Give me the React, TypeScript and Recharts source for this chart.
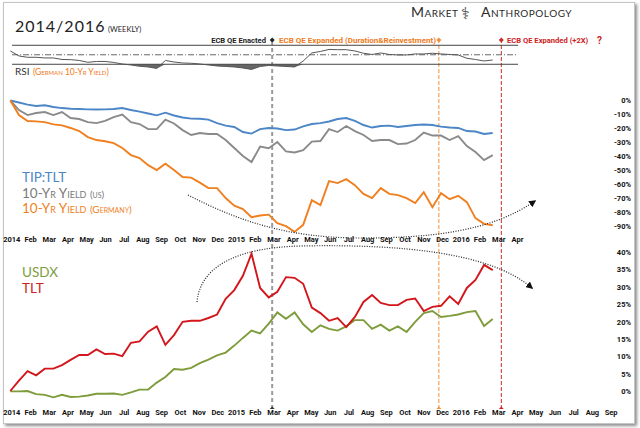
import React from "react";
import { LineChart, ComposedChart, Line, Area, XAxis, YAxis, ReferenceLine, ReferenceDot } from "recharts";

// weekly index since 1 Jan 2014 (sampled every 2nd week)
const weeks = [1, 3, 5, 7, 9, 11, 13, 15, 17, 19, 21, 23, 25, 27, 29, 31, 33, 35, 37, 39, 41, 43, 45, 47, 49, 51, 53, 55, 57, 59, 61, 63, 65, 67, 69, 71, 73, 75, 77, 79, 81, 83, 85, 87, 89, 91, 93, 95, 97, 99, 101, 103, 105, 107, 109, 111, 113];

// upper panel, % change
const tipTlt = [0, -1.4, -2.9, -3.9, -3.4, -4.6, -5.4, -5.9, -6.1, -6.3, -6.4, -6.3, -6.1, -5.4, -6.8, -7.9, -9.3, -10.6, -8.7, -10.7, -12.1, -12.9, -13, -13.6, -16.1, -17.9, -18.9, -22.5, -23.6, -20.4, -19.6, -20, -21.1, -20.7, -18.4, -16.8, -16.1, -15, -13.2, -12.5, -14.6, -17.5, -19.3, -18.2, -17.9, -18.9, -18.2, -17.5, -17.1, -17.5, -18.6, -19.3, -19.6, -21.8, -22.1, -23.9, -23.2];
const us10y = [0, -6.8, -10.4, -8.9, -8.2, -10.4, -8.2, -12.5, -13.2, -15.4, -16.1, -14.6, -11.8, -10, -15.4, -16.8, -20.4, -20.4, -13.6, -16.4, -21.1, -24.6, -23.2, -23.9, -23.9, -28.2, -33.9, -39.6, -43.9, -32.9, -34, -29.6, -36.3, -37.1, -35.4, -29.3, -28.9, -20.4, -22.5, -18.2, -21.8, -24.6, -28.9, -28.2, -28.2, -31.1, -30.7, -28.2, -22.9, -25, -25, -28.2, -25.4, -32.5, -36.8, -42.5, -39];
const de10y = [0, -10.4, -14.6, -14.9, -15.4, -17, -17.7, -19.6, -21.8, -26.1, -28.2, -29.1, -30.4, -33.9, -38.9, -41.1, -46.1, -49.6, -45.1, -49.6, -54.6, -55, -58.6, -62.5, -62.5, -69.6, -75, -77.5, -83.2, -82, -81.4, -87.5, -89.6, -93.7, -88.7, -71.1, -74.6, -57.5, -58.9, -56.1, -60.4, -66.6, -69.6, -62.5, -66.6, -67.5, -69.6, -73.2, -65.4, -76.1, -66.1, -70.4, -68, -72.5, -83.9, -88, -89];

// lower panel, % change
const usdx = [0.1, 0.1, 0.2, -0.7, -0.9, -1.6, -0.9, -1.5, -1.4, -1.1, -0.6, -0.6, -0.5, -0.9, -0.2, 0.6, 0.6, 2.6, 4.2, 6.5, 6.3, 6.8, 8.2, 9.2, 10.4, 11.2, 13.2, 15.4, 17.5, 16.7, 19.5, 22.7, 20.9, 22.7, 19.3, 17.1, 19, 18, 17.5, 18.7, 20.5, 20.5, 18, 19.2, 17.5, 18.7, 17.1, 20, 22.5, 23.1, 21.4, 21.7, 22.1, 22.8, 23.1, 18.8, 20.8];
const tlt = [0.2, 3.2, 5.9, 4.7, 6.6, 6.6, 7.6, 9.1, 10.5, 10.5, 12.1, 10.8, 10.9, 10.2, 14, 14.4, 17.2, 18.7, 13.4, 16.2, 20, 20.3, 20.3, 21.1, 22.1, 26.6, 29.1, 33.2, 39.5, 29.7, 27, 28.6, 32.8, 32.6, 30.9, 24.1, 22.5, 20.3, 21.1, 18.5, 21.4, 25.7, 27.7, 25.4, 24.8, 24.8, 26.3, 26.7, 23.1, 24.3, 24.6, 27.3, 25.1, 29.7, 32, 36.3, 34.8];

// RSI of German 10-yr yield
const rsiDe = [58, 47.5, 44.7, 44.7, 43.3, 43.3, 40.1, 39.7, 38, 34.2, 35.9, 35.9, 33.8, 30.6, 28.5, 25.8, 24.3, 21.2, 38, 34.8, 32.7, 32.1, 30.6, 28.5, 26.4, 25.4, 24.3, 22.2, 19.1, 25.4, 27.5, 26.4, 25.4, 24.3, 36.9, 53.8, 57, 61.2, 60.7, 60.7, 58, 53.2, 50.6, 53.8, 50.6, 49.6, 49.6, 51.7, 51.7, 53.2, 51.7, 50.6, 49.6, 42.6, 40.1, 36.9, 39];

const upperMonths = ["2014", "Feb", "Mar", "Apr", "May", "Jun", "Jul", "Aug", "Sep", "Oct", "Nov", "Dec", "2015", "Feb", "Mar", "Apr", "May", "Jun", "Jul", "Aug", "Sep", "Oct", "Nov", "Dec", "2016", "Feb", "Mar", "Apr"];
const lowerMonths = [...upperMonths, "May", "Jun", "Jul", "Aug", "Sep"];
const upperPct = [0, -10, -20, -30, -40, -50, -60, -70, -80, -90];
const lowerPct = [0, 5, 10, 15, 20, 25, 30, 35, 40];

const eventWeeks = [61.8, 100.5, 115];
const rsiBands = [70, 50, 30];

const WPM = 52.18 / 12;
const monthTicks = (labels: string[]) => labels.map((_, i) => (i + 0.31) * WPM);

const data = weeks.map((w, i) => ({
  week: w,
  tip: tipTlt[i],
  us: us10y[i],
  de: de10y[i],
  usdx: usdx[i],
  tlt: tlt[i],
  rsi: rsiDe[i],
  rsiLow: rsiDe[i] < 30 ? [rsiDe[i], 30] : [30, 30],
  flat: 0.5,
}));

const FONT = "Lato, 'DejaVu Sans', sans-serif";
const BOLD = "Roboto, 'DejaVu Sans', sans-serif";
const W = 640;

const monthTick = (labels: string[], dy: number) => (props: any) => {
  const ticks = monthTicks(labels);
  const idx = ticks.findIndex((t) => Math.abs(t - props.payload.value) < 1e-6);
  return (
    <text x={props.x} y={props.y + dy} textAnchor="middle" fontSize={7.5} fontWeight={700} fontFamily={BOLD} fill="#111">
      {labels[idx]}
    </text>
  );
};

const pctTick = (props: any) => (
  <text x={props.x + 22} y={props.y + 2.7} textAnchor="end" fontSize={7.5} fontWeight={700} fontFamily={BOLD} fill="#111">
    {props.payload.value}%
  </text>
);

const diamond = (color: string, r: number) => (p: any) => (
  <polygon points={`${p.cx},${p.cy - r} ${p.cx + r},${p.cy} ${p.cx},${p.cy + r} ${p.cx - r},${p.cy}`} fill={color} />
);

const abs = (top = 0): React.CSSProperties => ({ position: "absolute", left: 0, top });

export default function App() {
  return (
    <div style={{ position: "absolute", left: 0, top: 0, width: 640, height: 428, background: "#fff", overflow: "hidden" }}>
      <div style={{ position: "absolute", left: 3, top: 2, width: 630, height: 420, border: "1px solid #c4c4c4", boxShadow: "2px 2px 3px rgba(0,0,0,0.45)" }} />

      {/* event lines */}
      <div style={abs()}>
        <ComposedChart width={W} height={409} data={data} margin={{ top: 40, right: 31, left: 6, bottom: 0 }}>
          <XAxis type="number" dataKey="week" domain={[0, 140]} hide />
          <YAxis type="number" domain={[0, 1]} hide />
          <Line dataKey="flat" stroke="none" dot={false} isAnimationActive={false} />
          <ReferenceLine x={eventWeeks[0]} stroke="#9a9a9a" strokeWidth={2} strokeDasharray="4 3" />
          <ReferenceLine x={eventWeeks[1]} stroke="#f0903a" strokeWidth={1} strokeDasharray="4 2" />
          <ReferenceLine x={eventWeeks[2]} stroke="#cc2a2a" strokeWidth={1} strokeDasharray="4 2" />
          <ReferenceDot x={eventWeeks[0]} y={1} shape={diamond("#222", 2.5)} />
          <ReferenceDot x={eventWeeks[1]} y={1} shape={diamond("#f0903a", 2.5)} />
          <ReferenceDot x={eventWeeks[2]} y={1} shape={diamond("#cc2a2a", 2.5)} />
          <ReferenceDot x={eventWeeks[0]} y={0} shape={diamond("#333", 2.5)} />
          <ReferenceDot x={eventWeeks[1]} y={0} shape={diamond("#f0903a", 2.5)} />
          <ReferenceDot x={eventWeeks[2]} y={0} shape={diamond("#cc2a2a", 2.5)} />
        </ComposedChart>
      </div>

      {/* RSI panel */}
      <div style={abs()}>
        <ComposedChart width={W} height={71.4} data={data} margin={{ top: 42.9, right: 31, left: 6, bottom: 0 }}>
          <XAxis type="number" dataKey="week" domain={[0, 140]} hide />
          <YAxis type="number" domain={[15, 75]} hide />
          <ReferenceLine segment={[{ x: 1.4, y: rsiBands[0] }, { x: 118.9, y: rsiBands[0] }]} stroke="#444" strokeWidth={1} />
          <ReferenceLine segment={[{ x: 1.4, y: rsiBands[1] }, { x: 118.9, y: rsiBands[1] }]} stroke="#666" strokeWidth={1} strokeDasharray="6 2 1 2" />
          <ReferenceLine segment={[{ x: 1.4, y: rsiBands[2] }, { x: 118.9, y: rsiBands[2] }]} stroke="#444" strokeWidth={1} />
          <Area dataKey="rsiLow" stroke="none" fill="#666" fillOpacity={1} isAnimationActive={false} />
          <Line dataKey="rsi" stroke="#555" strokeWidth={1} dot={false} isAnimationActive={false} />
        </ComposedChart>
      </div>

      {/* upper panel */}
      <div style={abs()}>
        <LineChart width={W} height={253.7} data={data} margin={{ top: 96.3, right: 0, left: 6, bottom: 0 }}>
          <XAxis type="number" dataKey="week" domain={[0, 140]} ticks={monthTicks(upperMonths)} interval={0} height={20}
            axisLine={false} tickLine={false} tickSize={0} tickMargin={0} tick={monthTick(upperMonths, 8.5)} />
          <YAxis orientation="right" type="number" domain={[-95, 3]} ticks={upperPct} interval={0} width={31}
            axisLine={false} tickLine={false} tickSize={0} tickMargin={0} tick={pctTick} />
          <Line dataKey="tip" stroke="#4c86c7" strokeWidth={1.9} dot={false} isAnimationActive={false} />
          <Line dataKey="us" stroke="#8a8a8a" strokeWidth={1.9} dot={false} isAnimationActive={false} />
          <Line dataKey="de" stroke="#f07f1f" strokeWidth={1.9} dot={false} isAnimationActive={false} />
        </LineChart>
      </div>

      {/* lower panel */}
      <div style={abs()}>
        <LineChart width={W} height={418.7} data={data} margin={{ top: 248.5, right: 0, left: 6, bottom: 0 }}>
          <XAxis type="number" dataKey="week" domain={[0, 140]} ticks={monthTicks(lowerMonths)} interval={0} height={20}
            axisLine={false} tickLine={false} tickSize={0} tickMargin={0} tick={monthTick(lowerMonths, 16)} />
          <YAxis orientation="right" type="number" domain={[-2, 41]} ticks={lowerPct} interval={0} width={31}
            axisLine={false} tickLine={false} tickSize={0} tickMargin={0} tick={pctTick} />
          <Line dataKey="usdx" stroke="#7e9c3c" strokeWidth={1.9} dot={false} isAnimationActive={false} />
          <Line dataKey="tlt" stroke="#d2161b" strokeWidth={1.9} dot={false} isAnimationActive={false} />
        </LineChart>
      </div>

      {/* titles, notes, legends */}
      <svg width={640} height={428} style={{ position: "absolute", left: 0, top: 0, pointerEvents: "none" }} fontFamily={FONT}>
        <defs>
          <marker id="arr" viewBox="0 0 10 10" refX="8" refY="5" markerWidth="6" markerHeight="6" orient="auto">
            <path d="M0,0 L10,5 L0,10 z" fill="#111" />
          </marker>
        </defs>
        <text x={15} y={32} fontSize={16} letterSpacing={1} fill="#222">2014/2016</text>
        <text x={108} y={32} fontSize={7.5} fill="#222">(WEEKLY)</text>
        <text x={411} y={17} fontSize={14} fill="#2a2a2a" style={{ fontVariant: "small-caps" }} letterSpacing={0.5}>Market</text>
        <text x={461} y={19} fontSize={16} fill="#444" fontFamily="'DejaVu Sans'">⚕</text>
        <text x={481} y={17} fontSize={14} fill="#2a2a2a" style={{ fontVariant: "small-caps" }} letterSpacing={0.5}>Anthropology</text>

        <g fontFamily={BOLD} fontWeight={700}>
          <text x={266} y={43} textAnchor="end" fontSize={7.6} fill="#222">ECB QE Enacted</text>
          <text x={279} y={43} fontSize={7.6} fill="#ee7a22" textLength={157} lengthAdjust="spacingAndGlyphs">ECB QE Expanded (Duration&amp;Reinvestment)</text>
          <text x={507} y={43} fontSize={7.6} fill="#cc2222">ECB QE Expanded (+2X)</text>
          <text x={597} y={44} fontSize={10} fill="#cc2222">?</text>
        </g>

        <text x={15} y={75} fontSize={10} fill="#333">RSI</text>
        <text x={33} y={75} fontSize={8.5} fill="#ee7a22" style={{ fontVariant: "small-caps" }}>(German 10-Yr Yield)</text>

        <text x={22} y={182} fontSize={13.5} fill="#4c86c7">TIP:TLT</text>
        <text x={22} y={198} fontSize={13.5} fill="#7a7a7a" style={{ fontVariant: "small-caps" }}>10-Yr Yield <tspan fontSize={10}>(us)</tspan></text>
        <text x={22} y={213} fontSize={13.5} fill="#f07f1f" style={{ fontVariant: "small-caps" }}>10-Yr Yield <tspan fontSize={10}>(Germany)</tspan></text>
        <text x={22} y={277} fontSize={13.5} fill="#7e9c3c">USDX</text>
        <text x={22} y={293} fontSize={13.5} fill="#cc2222">TLT</text>

        <path d="M188,195 C240,222 290,238 360,238 C430,238 490,232 535,201" fill="none" stroke="#222" strokeWidth={1.2} strokeDasharray="1 1.5" markerEnd="url(#arr)" />
        <path d="M197,302 C200,270 230,248 300,246 C400,244 490,252 532,288" fill="none" stroke="#222" strokeWidth={1.2} strokeDasharray="1 1.5" markerEnd="url(#arr)" />
      </svg>
    </div>
  );
}
